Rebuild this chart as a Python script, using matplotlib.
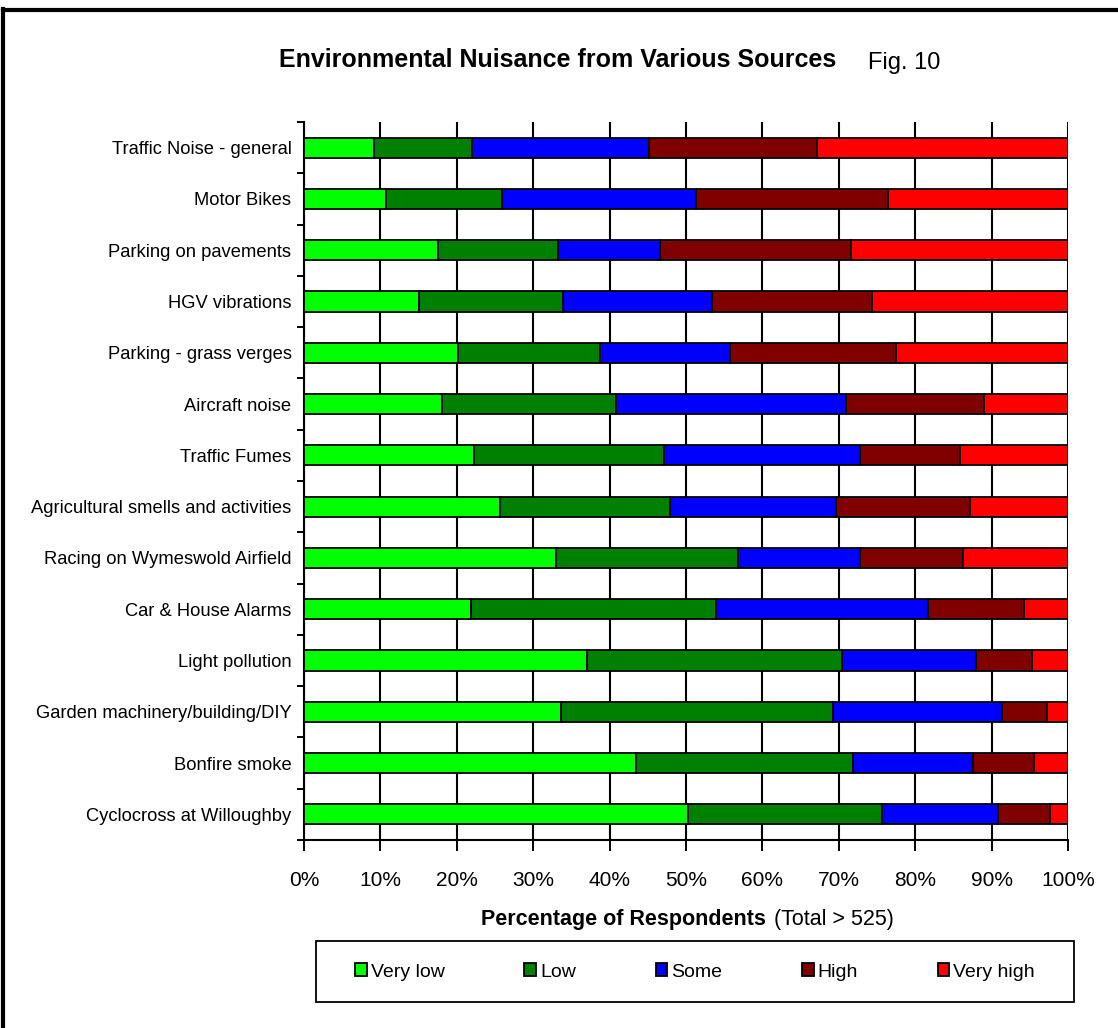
#!/usr/bin/env python3

import numpy as np
import matplotlib
matplotlib.use( 'Agg' )
import matplotlib.pyplot as plt
from matplotlib.patches import Rectangle
from matplotlib.lines import Line2D

plt.rcParams['font.family'] = [ 'Liberation Sans', 'DejaVu Sans' ]

# Categories, top to bottom as in the figure
sources = [ 'Traffic Noise - general', 'Motor Bikes', 'Parking on pavements',
            'HGV vibrations', 'Parking - grass verges', 'Aircraft noise',
            'Traffic Fumes', 'Agricultural smells and activities',
            'Racing on Wymeswold Airfield', 'Car & House Alarms',
            'Light pollution', 'Garden machinery/building/DIY',
            'Bonfire smoke', 'Cyclocross at Willoughby' ]

# Percentage of respondents per nuisance level
veryLow  = [  9.1, 10.7, 17.5, 15.0, 20.1, 18.1, 22.2, 25.7, 33.0, 21.9, 37.1, 33.7, 43.5, 50.3 ]
low      = [ 12.9, 15.2, 15.8, 18.9, 18.6, 22.7, 24.9, 22.2, 23.8, 32.0, 33.3, 35.5, 28.3, 25.4 ]
some     = [ 23.1, 25.4, 13.3, 19.5, 17.1, 30.1, 25.7, 21.7, 16.0, 27.8, 17.6, 22.2, 15.7, 15.2 ]
high     = [ 22.0, 25.2, 25.0, 21.0, 21.7, 18.1, 13.1, 17.6, 13.4, 12.6,  7.3,  5.8,  8.1,  6.7 ]
veryHigh = [ 32.9, 23.5, 28.4, 25.6, 22.5, 11.0, 14.1, 12.8, 13.8,  5.7,  4.7,  2.8,  4.4,  2.4 ]

levels = [ 'Very low', 'Low', 'Some', 'High', 'Very high' ]
colors = [ '#00FF00', '#008000', '#0000FF', '#800000', '#FF0000' ]

W, H = 1118, 1028

def makePlot():

    fig = plt.figure( figsize = ( W / 100, H / 100 ), dpi = 100 )
    ax  = fig.add_axes( [ 304 / W, 1 - 840 / H, 764 / W, 718 / H ] )

    series = [ veryLow, low, some, high, veryHigh ]
    yPos   = np.arange( len( sources ) )

    left = np.zeros( len( sources ) )
    handles = []
    for vals, lab, col in zip( series, levels, colors ):
        vals = np.array( vals )
        b = ax.barh( yPos, vals, left = left, height = 0.39, color = col,
                     edgecolor = 'black', linewidth = 1.3, label = lab,
                     zorder = 3 )
        handles.append( b )
        left += vals

    ax.set_xlim( 0, 100 )
    ax.set_ylim( len( sources ) - 0.5, -0.5 )

    ax.set_xticks( np.arange( 0, 101, 10 ) )
    ax.set_xticklabels( [ '{:d}%'.format( v ) for v in range( 0, 101, 10 ) ],
                        fontsize = 15 )
    ax.tick_params( axis = 'x', direction = 'out', length = 8, width = 1.4,
                    pad = 14 )

    ax.set_yticks( yPos )
    ax.set_yticklabels( sources, fontsize = 13.2 )
    ax.set_yticks( np.arange( -0.5, len( sources ), 1.0 ), minor = True )
    ax.tick_params( axis = 'y', which = 'major', length = 0, pad = 9 )
    ax.tick_params( axis = 'y', which = 'minor', direction = 'out',
                    length = 5, width = 1.4 )

    ax.grid( axis = 'x', color = 'black', linewidth = 1.5, zorder = 0 )
    ax.set_axisbelow( True )

    for s in [ 'top', 'right' ]:
        ax.spines[s].set_visible( False )
    for s in [ 'left', 'bottom' ]:
        ax.spines[s].set_linewidth( 1.5 )

    # Titles
    fig.text( 558 / W, 1 - 60 / H, 'Environmental Nuisance from Various Sources',
              fontsize = 18, fontweight = 'bold', ha = 'center', va = 'center' )
    fig.text( 904 / W, 1 - 63 / H, 'Fig. 10', fontsize = 17,
              ha = 'center', va = 'center' )

    # Axis label in two styles
    fig.text( 766 / W, 1 - 919 / H, 'Percentage of Respondents',
              fontsize = 15.5, fontweight = 'bold', ha = 'right', va = 'center' )
    fig.text( 774 / W, 1 - 919 / H, '(Total > 525)',
              fontsize = 15.5, ha = 'left', va = 'center' )

    # Legend with its box
    fig.patches.append( Rectangle( ( 316 / W, 1 - 1002 / H ), 758 / W, 61 / H,
                                   transform = fig.transFigure, fill = False,
                                   edgecolor = 'black', linewidth = 1.3 ) )
    fig.legend( handles = handles, labels = levels, ncol = 5, frameon = False,
                loc = 'center', bbox_to_anchor = ( 695 / W, 1 - 972 / H ),
                fontsize = 14, handlelength = 0.6, handleheight = 0.6,
                handletextpad = 0.2, columnspacing = 4.1 )

    # Outer frame (top and left edges only visible)
    fig.lines.append( Line2D( [ 3 / W, 3 / W ], [ 0, 1 - 9 / H ],
                              transform = fig.transFigure, color = 'black',
                              linewidth = 3 ) )
    fig.lines.append( Line2D( [ 3 / W, 1 ], [ 1 - 10 / H, 1 - 10 / H ],
                              transform = fig.transFigure, color = 'black',
                              linewidth = 3 ) )

    fig.savefig( 'out.png', dpi = 100 )

if __name__ == '__main__':

    makePlot()
